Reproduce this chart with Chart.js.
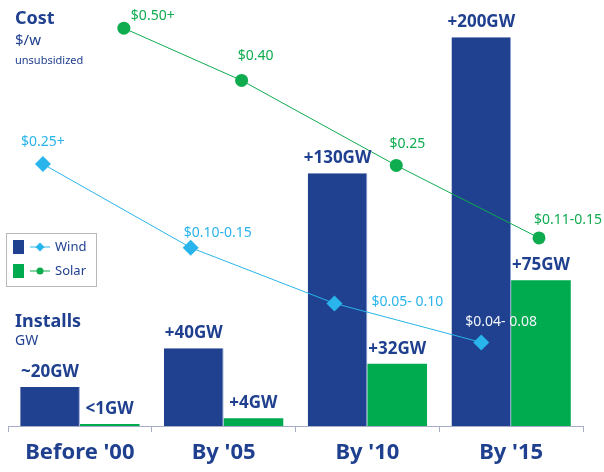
<!DOCTYPE html>
<html>
<head>
<meta charset="utf-8">
<script src="https://cdn.jsdelivr.net/npm/chart.js@4"></script>
<style>
html,body{margin:0;padding:0;background:#fff;}
#wrap{width:604px;height:472px;}
</style>
</head>
<body>
<div id="wrap"><canvas id="c" width="604" height="472"></canvas></div>
<script>
// ---- data ----
const categories = ["Before '00", "By '05", "By '10", "By '15"];
const windInstallsGW = [20, 40, 130, 200];
const solarInstallsGW = [1, 4, 32, 75];
const windInstallLabels = ["~20GW", "+40GW", "+130GW", "+200GW"];
const solarInstallLabels = ["<1GW", "+4GW", "+32GW", "+75GW"];
// cost points: horizontal position (category units) and height on the cost scale as drawn
const windCostX = [-0.257, 0.771, 1.771, 2.792];
const windCostPlot = [0.376, 0.256, 0.176, 0.120];
const solarCostX = [0.306, 1.125, 2.201, 3.194];
const solarCostPlot = [0.571, 0.496, 0.374, 0.270];
const windCostLabels = ["$0.25+", "$0.10-0.15", "$0.05- 0.10", "$0.04- 0.08"];
const solarCostLabels = ["$0.50+", "$0.40", "$0.25", "$0.11-0.15"];

// ---- styles ----
const NAVY = '#1f3f8f';
const WIND_BAR = '#1f418f';
const SOLAR_BAR = '#00aa4f';
const WIND_LINE = '#2ab4ec';
const SOLAR_LINE = '#0fab4f';
const FONT = "'Noto Sans', 'Open Sans', sans-serif";
// label offsets relative to each point [dx, dy, align]
const windLabelStyle = [[0,-22,'center'],[-7,-15,'left'],[37,-1,'left'],[-16,-20,'left']];
const windLabelColor = [WIND_LINE, WIND_LINE, WIND_LINE, '#f2f4fa'];
const solarLabelStyle = [[7,-12,'left'],[14,-24,'center'],[11,-21,'center'],[-5,-18,'left']];

const overlay = {
  id: 'overlay',
  afterDatasetsDraw(chart) {
    const ctx = chart.ctx;
    ctx.save();
    // bar value labels
    ctx.font = `bold 17px ${FONT}`;
    ctx.fillStyle = NAVY;
    ctx.textAlign = 'center';
    ctx.textBaseline = 'middle';
    [[0, windInstallLabels], [1, solarInstallLabels]].forEach(([di, labels]) => {
      chart.getDatasetMeta(di).data.forEach((bar, i) => {
        ctx.fillText(labels[i], bar.x, bar.y - 15);
      });
    });
    // cost labels
    ctx.font = `14px ${FONT}`;
    chart.getDatasetMeta(2).data.forEach((p, i) => {
      const s = windLabelStyle[i];
      ctx.fillStyle = windLabelColor[i];
      ctx.textAlign = s[2];
      ctx.fillText(windCostLabels[i], p.x + s[0], p.y + s[1]);
    });
    chart.getDatasetMeta(3).data.forEach((p, i) => {
      const s = solarLabelStyle[i];
      ctx.fillStyle = SOLAR_LINE;
      ctx.textAlign = s[2];
      ctx.fillText(solarCostLabels[i], p.x + s[0], p.y + s[1]);
    });
    // titles
    ctx.textAlign = 'left';
    ctx.fillStyle = NAVY;
    ctx.font = `bold 18px ${FONT}`;
    ctx.fillText('Cost', 15, 19);
    ctx.font = `15px ${FONT}`;
    ctx.fillText('$/w', 15, 41);
    ctx.font = `11px ${FONT}`;
    ctx.fillText('unsubsidized', 15, 61);
    ctx.font = `bold 18px ${FONT}`;
    ctx.fillText('Installs', 15, 322);
    ctx.font = `14px ${FONT}`;
    ctx.fillText('GW', 15, 341);
    // legend
    ctx.strokeStyle = '#b8b8b8';
    ctx.lineWidth = 1;
    ctx.strokeRect(6.5, 233.5, 90, 53);
    ctx.fillStyle = WIND_BAR;
    ctx.fillRect(13, 240, 11, 14);
    ctx.fillStyle = SOLAR_BAR;
    ctx.fillRect(13, 264, 11, 14);
    ctx.strokeStyle = WIND_LINE;
    ctx.beginPath(); ctx.moveTo(30, 247); ctx.lineTo(50, 247); ctx.stroke();
    ctx.fillStyle = WIND_LINE;
    ctx.beginPath(); ctx.moveTo(40, 242.5); ctx.lineTo(44.5, 247); ctx.lineTo(40, 251.5); ctx.lineTo(35.5, 247); ctx.closePath(); ctx.fill();
    ctx.strokeStyle = SOLAR_LINE;
    ctx.beginPath(); ctx.moveTo(30, 271); ctx.lineTo(50, 271); ctx.stroke();
    ctx.fillStyle = SOLAR_LINE;
    ctx.beginPath(); ctx.arc(40, 271, 3.5, 0, Math.PI * 2); ctx.fill();
    ctx.fillStyle = NAVY;
    ctx.font = `13px ${FONT}`;
    ctx.textBaseline = 'middle';
    ctx.fillText('Wind', 55, 247);
    ctx.fillText('Solar', 55, 271);
    ctx.restore();
  }
};

new Chart(document.getElementById('c'), {
  type: 'bar',
  data: {
    datasets: [
      { label: 'Wind installs', data: categories.map((c, i) => ({x: i, y: windInstallsGW[i]})),
        backgroundColor: WIND_BAR,
        borderColor: '#8ea2d6', borderWidth: {top:0,left:0,bottom:0,right:1}, borderSkipped: false,
        yAxisID: 'y', order: 2, barPercentage: 1, categoryPercentage: 0.83 },
      { label: 'Solar installs', data: categories.map((c, i) => ({x: i, y: solarInstallsGW[i]})),
        backgroundColor: SOLAR_BAR,
        yAxisID: 'y', order: 2, barPercentage: 1, categoryPercentage: 0.83 },
      { type: 'line', label: 'Wind cost', data: windCostX.map((x, i) => ({x, y: windCostPlot[i]})),
        yAxisID: 'yc', borderColor: WIND_LINE, backgroundColor: WIND_LINE,
        borderWidth: 1, pointStyle: 'rectRot', pointRadius: 8, pointBorderWidth: 0, order: 1, tension: 0 },
      { type: 'line', label: 'Solar cost', data: solarCostX.map((x, i) => ({x, y: solarCostPlot[i]})),
        yAxisID: 'yc', borderColor: SOLAR_LINE, backgroundColor: SOLAR_LINE,
        borderWidth: 1, pointStyle: 'circle', pointRadius: 6.5, pointBorderWidth: 0, order: 1, tension: 0 }
    ]
  },
  options: {
    responsive: false,
    animation: false,
    devicePixelRatio: 1,
    layout: { padding: { left: 7, right: 21, top: 6, bottom: 0 } },
    plugins: { legend: { display: false }, tooltip: { enabled: false } },
    scales: {
      x: {
        type: 'linear',
        min: -0.5, max: 3.5,
        offset: false,
        afterBuildTicks(scale) { scale.ticks = categories.map((c, i) => ({ value: i })); },
        grid: { display: true, drawOnChartArea: false, offset: true, tickLength: 6, color: '#a6aec6', tickWidth: 1 },
        border: { display: true, color: '#a6aec6', width: 1 },
        ticks: { color: NAVY, font: { family: FONT, size: 22, weight: 'bold' }, padding: 8,
                 autoSkip: false, maxRotation: 0, callback: (v) => categories[v] },
        afterFit(scale) { scale.height = 46; }
      },
      y: { display: false, min: 0, max: 215 },
      yc: { display: false, min: 0, max: 0.6 }
    }
  },
  plugins: [overlay]
});
</script>
</body>
</html>
